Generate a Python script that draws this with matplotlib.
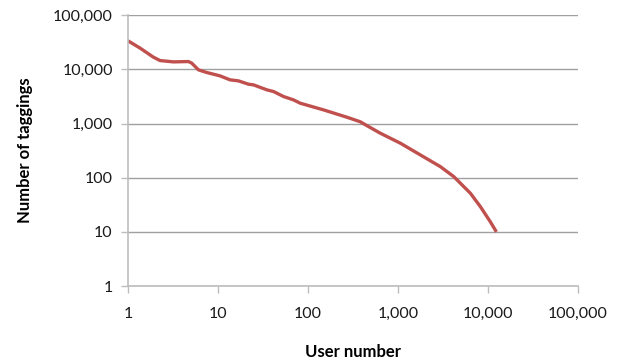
import matplotlib.pyplot as plt
from matplotlib.ticker import FixedLocator, FuncFormatter, NullLocator

# rank of user vs. number of taggings (log-log)
user_number = [1, 1.36, 1.91, 2.27, 3.19, 4.69, 5.1, 6.06, 7.5, 10.5, 13.6, 16.9,
               21.8, 24.8, 34.9, 41.4, 53.5, 69, 81.9, 149, 271, 381, 471, 635,
               1060, 1770, 2960, 4160, 6370, 8230, 10600, 12400]
taggings = [33800, 24800, 16900, 14600, 13800, 14000, 13100, 9840, 8780, 7620, 6430, 6150,
            5340, 5190, 4200, 3910, 3160, 2740, 2380, 1790, 1310, 1080, 880, 665,
            435, 264, 160, 105, 51.7, 29.2, 15.4, 10]
decades = [1, 10, 100, 1000, 10000, 100000]

plt.rcParams['font.family'] = ['Lato', 'DejaVu Sans']

fig = plt.figure(figsize=(6.17, 3.62), dpi=100)
ax = fig.add_axes([0.2075, 0.2099, 0.7293, 0.7478])

ax.plot(user_number, taggings, color='#C0504D', lw=2.4, solid_capstyle='butt',
        solid_joinstyle='round')

ax.set_xscale('log')
ax.set_yscale('log')
ax.set_xlim(1, 100000)
ax.set_ylim(1, 100000)

fmt = FuncFormatter(lambda v, p: '{:,}'.format(int(round(v))))
for axis in (ax.xaxis, ax.yaxis):
    axis.set_major_locator(FixedLocator(decades))
    axis.set_minor_locator(NullLocator())
    axis.set_major_formatter(fmt)

ax.grid(axis='y', color='#A0A0A0', lw=1)
ax.set_axisbelow(True)
for side in ('top', 'right'):
    ax.spines[side].set_visible(False)
for side in ('left', 'bottom'):
    ax.spines[side].set_color('#BDBDBD')
    ax.spines[side].set_linewidth(1.2)

ax.tick_params(axis='both', length=5, width=1, color='#BDBDBD',
               labelsize=11.5, labelcolor='#1a1a1a')
ax.tick_params(axis='x', pad=10)
ax.tick_params(axis='y', pad=6)

ax.set_xlabel('User number', fontsize=12, fontweight='bold', labelpad=17)
ax.set_ylabel('Number of taggings', fontsize=12, fontweight='bold', labelpad=14)

fig.savefig('out.png', dpi=100)
